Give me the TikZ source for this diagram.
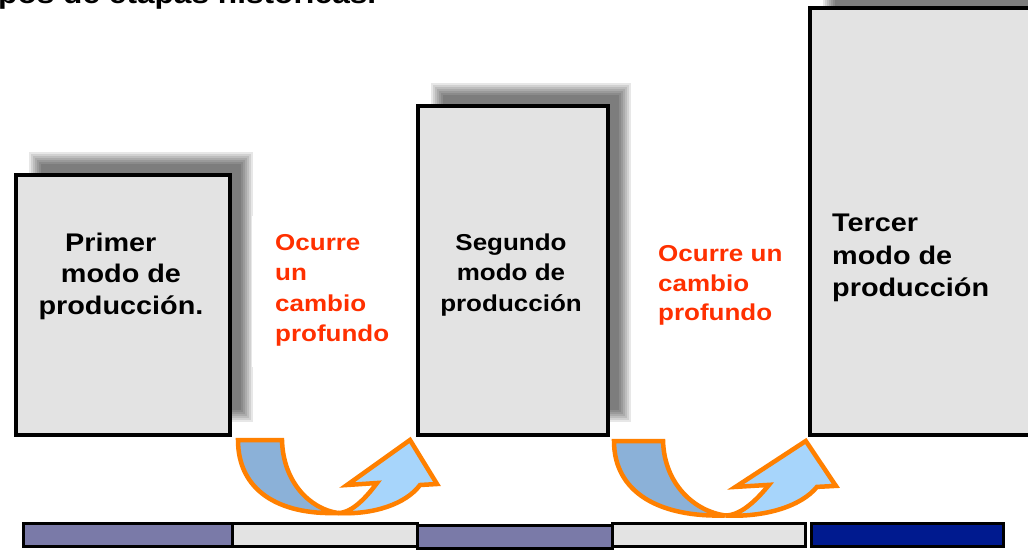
\documentclass[tikz,border=0pt]{standalone}
\usepackage{fontspec}
\setmainfont{Liberation Sans}[FakeStretch=1.13]
\definecolor{boxgray}{HTML}{E3E3E3}
\definecolor{barpurple}{HTML}{7A7AA8}
\definecolor{navy}{HTML}{001A8F}
\definecolor{orng}{HTML}{FF8000}
\definecolor{ocred}{HTML}{FF3000}
\definecolor{leftblue}{HTML}{8BB1D8}
\definecolor{rightblue}{HTML}{A7D5FB}
\newcommand\myshadow[4]{%
  \foreach \d in {-7,-5,-3,-1,1,3,5}{%
    \fill[black,opacity=0.095] (#1-\d,#2-\d) rectangle (#3+\d,#4+\d);}}
\tikzset{
  modebox/.style={draw=black,line width=4.5pt,fill=boxgray},
  txt/.style={inner sep=0pt,font=\bfseries},
  redtxt/.style={txt,text=ocred},
  arrowline/.style={draw=orng,line width=4.5pt,line join=miter},
  barseg/.style={draw=black,line width=3pt},
  uturn/.pic={
    \filldraw[arrowline,fill=leftblue] (0,0) -- (44,0)
      .. controls (45,42) and (72,69) .. (100,73)
      .. controls (40,75) and (0,50) .. (0,0) -- cycle;
    \filldraw[arrowline,fill=rightblue] (100,73)
      .. controls (115,73) and (130,55) .. (139,43)
      -- (109,45) -- (172,0) -- (199,44) -- (182,45)
      .. controls (168,64) and (135,75) .. (100,73) -- cycle;
  }
}
\begin{document}
\begin{tikzpicture}[x=1pt,y=-1pt]
\useasboundingbox (0,0) rectangle (1028,550);
\clip (0,0) rectangle (1028,550);
\fill[white] (0,0) rectangle (1028,550);
% title (cut off at top, as in the reference)
\node[txt,anchor=base west,font=\bfseries\fontsize{28}{30}\selectfont] (title) at (-2,3.5) {pos de etapas históricas.};
% shadows
\myshadow{34}{157}{248}{417}
\myshadow{436}{88}{626}{417}
\myshadow{828}{-10}{1046}{417}
% white panels behind red texts
\fill[white] (252,216) rectangle (410,367);
\fill[white] (638,227) rectangle (808,347);
% boxes
\node[modebox,minimum width=214pt,minimum height=260pt,inner sep=0pt] (b1) at (123,305) {};
\node[modebox,minimum width=190pt,minimum height=329pt,inner sep=0pt] (b2) at (513,270.5) {};
\node[modebox,minimum width=230pt,minimum height=427pt,inner sep=0pt] (b3) at (925,221.5) {};
% texts
\node[txt,anchor=base] (p1) at (121,251) {\fontsize{25.5}{31.5}\selectfont\begin{tabular}[t]{@{}c@{}}Primer\kern0.8em\\modo de\\producción.\end{tabular}};
\node[redtxt,anchor=base west] (c1) at (275,250) {\fontsize{23}{30.6}\selectfont\begin{tabular}[t]{@{}l@{}}Ocurre\\un\\cambio\\profundo\end{tabular}};
\node[txt,anchor=base] (p2) at (511,250) {\fontsize{23}{30.5}\selectfont\begin{tabular}[t]{@{}c@{}}Segundo\\modo de\\producción\end{tabular}};
\node[redtxt,anchor=base west] (c2) at (658,261.7) {\fontsize{23}{29.5}\selectfont\begin{tabular}[t]{@{}l@{}}Ocurre un\\cambio\\profundo\end{tabular}};
\node[txt,anchor=base west] (p3) at (832,231.7) {\fontsize{25.5}{32.5}\selectfont\begin{tabular}[t]{@{}l@{}}Tercer\\modo de\\producción\end{tabular}};
% curved arrows
\pic at (238,440) {uturn};
\pic[xscale=1.115,yscale=1.02] at (614,441) {uturn};
% bottom bar
\draw[barseg,fill=barpurple] (23.5,523.5) rectangle (232,546.5);
\draw[barseg,fill=boxgray] (232,523.5) rectangle (417,546.5);
\draw[barseg,fill=barpurple] (417,525.5) rectangle (612,548);
\draw[barseg,fill=boxgray] (612,523.5) rectangle (805,546.5);
\draw[barseg,fill=navy] (811,523.5) rectangle (1003,546.5);
\end{tikzpicture}
\end{document}
